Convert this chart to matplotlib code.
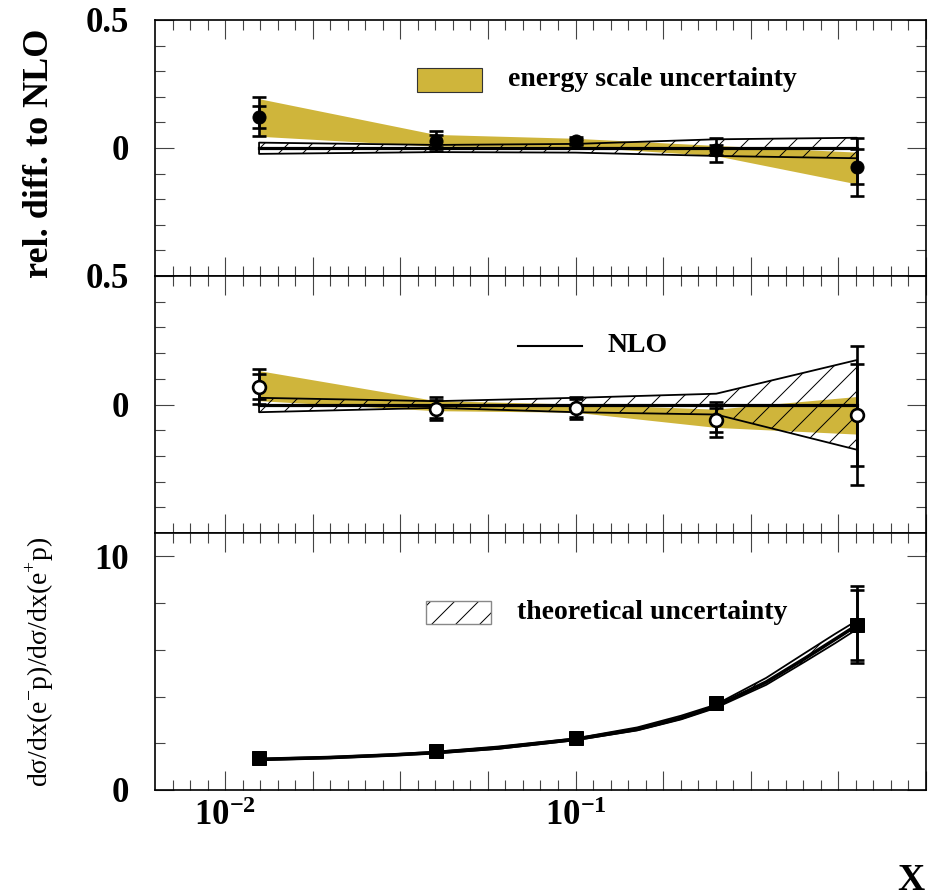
import numpy as np
import matplotlib
matplotlib.use('Agg')
import matplotlib.pyplot as plt
from matplotlib.ticker import FixedLocator, FixedFormatter, NullFormatter
from matplotlib.patches import Rectangle
from matplotlib.lines import Line2D

plt.rcParams['font.family'] = ['Liberation Serif', 'DejaVu Serif']
plt.rcParams['mathtext.fontset'] = 'custom'
plt.rcParams['mathtext.rm'] = 'Liberation Serif'
plt.rcParams['mathtext.bf'] = 'Liberation Serif:bold'

# ---------------- data ----------------
x_pts = [0.0125, 0.040, 0.100, 0.252, 0.635]

# panel 1 : e- p, relative difference to NLO
rel_em = [0.122, 0.027, 0.027, -0.008, -0.073]
rel_em_stat = [0.044, 0.022, 0.010, 0.020, 0.069]
rel_em_tot = [0.076, 0.039, 0.015, 0.048, 0.114]
esc_em_hi = [0.191, 0.051, 0.036, 0.008, -0.018]
esc_em_lo = [0.044, 0.005, 0.004, -0.032, -0.142]
th_em_hi = [0.021, 0.012, 0.016, 0.034, 0.040]
th_em_lo = [-0.023, -0.016, -0.018, -0.031, -0.040]

# panel 2 : e+ p, relative difference to NLO
rel_ep = [0.069, -0.017, -0.013, -0.059, -0.042]
rel_ep_stat = [0.049, 0.035, 0.035, 0.047, 0.198]
rel_ep_tot = [0.068, 0.045, 0.044, 0.067, 0.270]
esc_ep_hi = [0.130, 0.013, 0.000, -0.020, 0.029]
esc_ep_lo = [0.013, -0.026, -0.032, -0.091, -0.117]
th_ep_hi = [0.026, 0.013, 0.026, 0.042, 0.173]
th_ep_lo = [-0.030, -0.013, -0.030, -0.039, -0.176]

nlo_rel = [0.0, 0.0, 0.0, 0.0, 0.0]

# panel 3 : ratio e-p / e+p
ratio = [1.36, 1.67, 2.21, 3.71, 7.07]
ratio_stat = [0.05, 0.06, 0.08, 0.15, 1.50]
ratio_tot = [0.07, 0.08, 0.10, 0.20, 1.65]
x_curve = [0.0125, 0.02, 0.03, 0.04, 0.06, 0.10, 0.15, 0.20, 0.25, 0.35, 0.45, 0.55, 0.635]
nlo_ratio = [1.31, 1.39, 1.50, 1.60, 1.80, 2.17, 2.60, 3.08, 3.57, 4.62, 5.62, 6.45, 7.05]
nlo_ratio_hi = [1.34, 1.42, 1.53, 1.64, 1.86, 2.21, 2.68, 3.18, 3.64, 4.80, 5.85, 6.68, 7.25]
nlo_ratio_lo = [1.28, 1.36, 1.47, 1.57, 1.76, 2.13, 2.55, 3.02, 3.50, 4.50, 5.48, 6.28, 6.88]

x_tick_vals = [0.01, 0.1]
x_tick_labels = [r'$\mathbf{10^{-2}}$', r'$\mathbf{10^{-1}}$']
rel_tick_vals = [0.0, 0.5]
rel_tick_labels = ['0', '0.5']
ratio_tick_vals = [0, 10]
ratio_tick_labels = ['0', '10']

GOLD = '#cfb53b'

# figure is rendered at 72 dpi (so the hatch pitch is 12 px); S converts
# "100-dpi points" to the sizes used here
DPI = 72
S = 100 / DPI
plt.rcParams['hatch.linewidth'] = 1.0

# ---------------- layout ----------------
W, H = 936, 896
fig = plt.figure(figsize=(W / DPI, H / DPI), dpi=DPI)
L, R = 155, 926
panels_px = [(20, 276), (276, 533), (533, 790)]
axes = []
for top, bot in panels_px:
    ax = fig.add_axes([L / W, (H - bot) / H, (R - L) / W, (bot - top) / H])
    axes.append(ax)

major_x = 10 ** np.arange(-2.0, 0.001, 0.25)
minor_x = 10 ** np.arange(-2.15, 0.0, 0.05)


def style(ax, show_xlabels):
    ax.set_xscale('log')
    ax.set_xlim(10 ** -2.2, 1.0)
    ax.xaxis.set_major_locator(FixedLocator(major_x))
    ax.xaxis.set_minor_locator(FixedLocator(minor_x))
    if show_xlabels:
        labs = []
        for v in major_x:
            lab = ''
            for tv, tl in zip(x_tick_vals, x_tick_labels):
                if abs(np.log10(v) - np.log10(tv)) < 1e-6:
                    lab = tl
            labs.append(lab)
        ax.xaxis.set_major_formatter(FixedFormatter(labs))
    else:
        ax.xaxis.set_major_formatter(NullFormatter())
    ax.xaxis.set_minor_formatter(NullFormatter())
    ax.tick_params(axis='both', which='both', direction='in', top=True, right=True,
                   width=0.8 * S, color='#444444')
    ax.tick_params(axis='both', which='major', length=13.7 * S)
    ax.tick_params(axis='both', which='minor', length=7.2 * S)
    ax.tick_params(axis='y', which='major', pad=19 * S, labelsize=25 * S)
    ax.tick_params(axis='x', which='major', pad=7 * S, labelsize=25 * S)
    for lab in ax.get_yticklabels() + ax.get_xticklabels():
        lab.set_fontweight('bold')
    for s in ax.spines.values():
        s.set_linewidth(1.2 * S)


def rel_panel(ax, y, stat, tot, esc_hi, esc_lo, th_hi, th_lo, open_marker):
    ax.fill_between(x_pts, esc_lo, esc_hi, facecolor=GOLD, edgecolor='none', zorder=1)
    ax.fill_between(x_pts, th_lo, th_hi, facecolor='none', edgecolor='black',
                    hatch='/', linewidth=1.3 * S, zorder=2)
    ax.plot(x_pts, nlo_rel, color='black', lw=2.3 * S, zorder=3)
    for err in (tot, stat):
        ax.errorbar(x_pts, y, yerr=err, fmt='none', ecolor='black', elinewidth=1.9 * S,
                    capsize=5 * S, capthick=1.9 * S, zorder=4)
    if open_marker:
        ax.plot(x_pts, y, 'o', ms=9.2 * S, mfc='white', mec='black', mew=1.9 * S, zorder=5)
    else:
        ax.plot(x_pts, y, 'o', ms=9.4 * S, mfc='black', mec='black', zorder=5)
    ax.set_ylim(-0.5, 0.5)
    ax.yaxis.set_major_locator(FixedLocator(rel_tick_vals))
    ax.yaxis.set_major_formatter(FixedFormatter(rel_tick_labels))
    ax.yaxis.set_minor_locator(FixedLocator(np.round(np.arange(-0.4, 0.45, 0.1), 2)))


ax1, ax2, ax3 = axes
rel_panel(ax1, rel_em, rel_em_stat, rel_em_tot, esc_em_hi, esc_em_lo, th_em_hi, th_em_lo, False)
rel_panel(ax2, rel_ep, rel_ep_stat, rel_ep_tot, esc_ep_hi, esc_ep_lo, th_ep_hi, th_ep_lo, True)

# panel 3
ax3.fill_between(x_curve, nlo_ratio_lo, nlo_ratio_hi, facecolor='white', edgecolor='black',
                 hatch='/', linewidth=1.3 * S, zorder=2)
ax3.plot(x_curve, nlo_ratio, color='black', lw=2.6 * S, zorder=3)
for err in (ratio_tot, ratio_stat):
    ax3.errorbar(x_pts, ratio, yerr=err, fmt='none', ecolor='black', elinewidth=1.9 * S,
                 capsize=5 * S, capthick=1.9 * S, zorder=4)
ax3.plot(x_pts, ratio, 's', ms=9.4 * S, mfc='black', mec='black', zorder=5)
ax3.set_ylim(0, 11)
ax3.yaxis.set_major_locator(FixedLocator(ratio_tick_vals))
ax3.yaxis.set_major_formatter(FixedFormatter(ratio_tick_labels))
ax3.yaxis.set_minor_locator(FixedLocator([2, 4, 6, 8]))

style(ax1, False)
style(ax2, False)
style(ax3, True)

# ---------------- legends ----------------
ax1.add_patch(Rectangle((0.340, 0.719), 0.084, 0.0935, transform=ax1.transAxes,
                        facecolor=GOLD, edgecolor='#333333', linewidth=0.8 * S, zorder=6))
ax1.text(0.458, 0.766, 'energy scale uncertainty', transform=ax1.transAxes,
         fontsize=20 * S, fontweight='bold', va='center', ha='left')

ax2.add_line(Line2D([0.4708, 0.5538], [0.729, 0.729], transform=ax2.transAxes,
                    color='black', lw=1.5 * S))
ax2.text(0.5875, 0.7315, 'NLO', transform=ax2.transAxes,
         fontsize=20 * S, fontweight='bold', va='center', ha='left')

ax3.add_patch(Rectangle((0.351, 0.645), 0.085, 0.0916, transform=ax3.transAxes,
                        facecolor='white', edgecolor='black', hatch='/', linewidth=0, zorder=6))
ax3.add_patch(Rectangle((0.351, 0.645), 0.085, 0.0916, transform=ax3.transAxes,
                        facecolor='none', edgecolor='#888888', linewidth=1.0 * S, zorder=7))
ax3.text(0.4695, 0.6926, 'theoretical uncertainty', transform=ax3.transAxes,
         fontsize=20 * S, fontweight='bold', va='center', ha='left')

# ---------------- axis titles ----------------
fig.text(40 / W, 1 - 153 / H, 'rel. diff. to NLO', rotation=90, fontsize=26 * S,
         fontweight='bold', ha='center', va='center')
fig.text(40 / W, 1 - 662 / H, 'd\u03c3/dx(e$^{-}$p)/d\u03c3/dx(e$^{+}$p)', rotation=90,
         fontsize=20 * S, ha='center', va='center')
fig.text(911 / W, 1 - 880 / H, 'X', fontsize=27 * S, fontweight='bold', ha='center', va='center')

fig.savefig('out.png', dpi=DPI)
